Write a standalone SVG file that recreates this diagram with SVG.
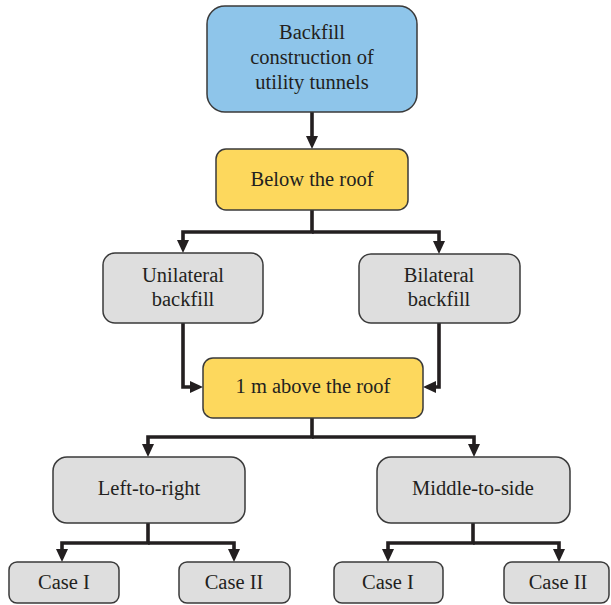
<svg xmlns="http://www.w3.org/2000/svg" width="611" height="605" viewBox="0 0 611 605">
<defs>
<style>
.box{stroke:#3a3a3a;stroke-width:1.5}
.blue{fill:#8ec5ea}
.yel{fill:#fdd85d}
.gray{fill:#dedede}
text{font-family:"Liberation Serif","Times New Roman",serif;font-size:20.5px;fill:#231f20;text-anchor:middle}
.c{fill:none;stroke:#231f20;stroke-width:3.6;stroke-linejoin:miter}
</style>
<marker id="ah" markerUnits="userSpaceOnUse" viewBox="0 0 13 12" markerWidth="13" markerHeight="12" refX="4" refY="6" orient="auto">
<path d="M0,0 L13,6 L0,12 z" fill="#231f20"/>
</marker>
</defs>
<g id="connectors">
<path class="c" d="M312,112 V140" marker-end="url(#ah)"/>
<path class="c" d="M312,210 V232 H183 V244" marker-end="url(#ah)"/>
<path class="c" d="M312,232 H439 V245" marker-end="url(#ah)"/>
<path class="c" d="M183,323 V387 H194" marker-end="url(#ah)"/>
<path class="c" d="M439,323 V387 H432" marker-end="url(#ah)"/>
<path class="c" d="M312,418 V437 H148 V448" marker-end="url(#ah)"/>
<path class="c" d="M312,437 H474 V448" marker-end="url(#ah)"/>
<path class="c" d="M148,523 V543 H62 V553" marker-end="url(#ah)"/>
<path class="c" d="M148,543 H234 V553" marker-end="url(#ah)"/>
<path class="c" d="M473,523 V543 H388 V553" marker-end="url(#ah)"/>
<path class="c" d="M473,543 H559 V553" marker-end="url(#ah)"/>
</g>
<g id="n1"><rect class="box blue" x="207" y="6" width="210" height="106" rx="18"/>
<text x="312" y="39">Backfill</text><text x="312" y="64">construction of</text><text x="312" y="89">utility tunnels</text></g>
<g id="n2"><rect class="box yel" x="216" y="149" width="192" height="61" rx="10"/>
<text x="312" y="186">Below the roof</text></g>
<g id="n3"><rect class="box gray" x="103" y="253" width="160" height="70" rx="12"/>
<text x="183" y="282">Unilateral</text><text x="183" y="306">backfill</text></g>
<g id="n4"><rect class="box gray" x="359" y="254" width="161" height="69" rx="12"/>
<text x="439" y="282">Bilateral</text><text x="439" y="306">backfill</text></g>
<g id="n5"><rect class="box yel" x="203" y="358" width="220" height="60" rx="10"/>
<text x="313" y="393">1 m above the roof</text></g>
<g id="n6"><rect class="box gray" x="53" y="457" width="192" height="66" rx="14"/>
<text x="149" y="495">Left-to-right</text></g>
<g id="n7"><rect class="box gray" x="377" y="457" width="193" height="66" rx="14"/>
<text x="473" y="495">Middle-to-side</text></g>
<g id="n8"><rect class="box gray" x="9" y="562" width="110" height="41" rx="8"/>
<text x="64" y="589">Case I</text></g>
<g id="n9"><rect class="box gray" x="179" y="562" width="111" height="41" rx="8"/>
<text x="234" y="589">Case II</text></g>
<g id="n10"><rect class="box gray" x="334" y="562" width="109" height="41" rx="8"/>
<text x="388" y="589">Case I</text></g>
<g id="n11"><rect class="box gray" x="504" y="562" width="105" height="41" rx="8"/>
<text x="558" y="589">Case II</text></g>
</svg>
